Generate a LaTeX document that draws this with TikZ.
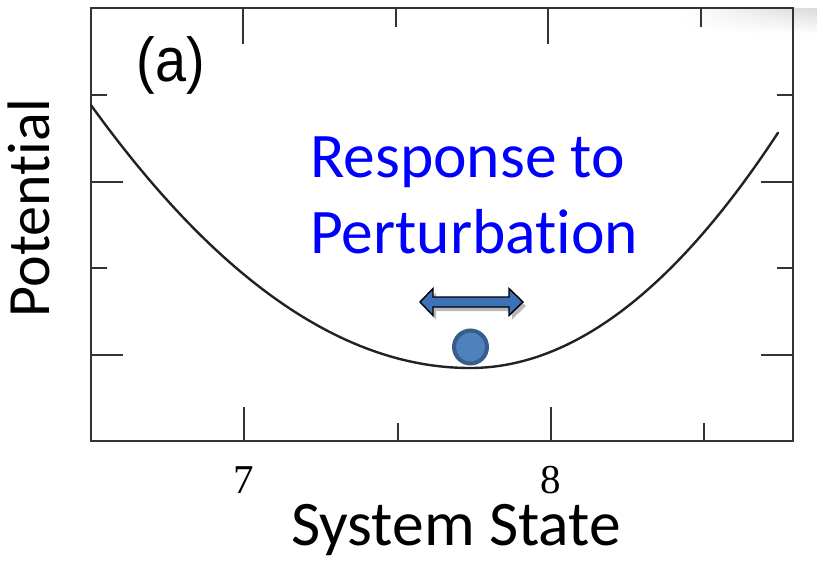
\documentclass[tikz,border=0pt]{standalone}
\usepackage{fontspec}
\setmainfont[RawFeature={-liga;-clig;-dlig;-calt}]{Carlito}
\newfontfamily\helv{Liberation Sans}
\newfontfamily\timesf{Liberation Serif}
\usetikzlibrary{fadings}
\definecolor{axisgray}{HTML}{333333}
\definecolor{curvegray}{HTML}{222222}
\definecolor{ballfill}{HTML}{4F81BD}
\definecolor{ballline}{HTML}{385D8A}
\definecolor{arrowfill}{HTML}{3D72B9}
\definecolor{textblue}{HTML}{0000FF}
\tikzset{
  axisline/.style={draw=axisgray, line width=2pt},
  ticklong/.style={draw=axisgray, line width=1.6pt},
  curveline/.style={draw=curvegray, line width=2.4pt},
  ticklabel/.style={inner sep=0pt, anchor=base, text depth=0pt, font=\timesf\fontsize{41}{41}\selectfont},
  biglabel/.style={inner sep=0pt, anchor=base, font=\fontsize{63.5}{63.5}\selectfont},
}
\begin{document}
\begin{tikzpicture}[x=1pt, y=-1pt]
\useasboundingbox (0,0) rectangle (817,563);
% shadow at top right
\shade[top color=gray!30, bottom color=white, path fading=west] (680,8) rectangle (817,34);
% frame
\draw[axisline] (91,8) rectangle (793,441);
% top ticks
\draw[ticklong] (243,8) -- (243,44);
\draw[ticklong] (396,8) -- (396,27);
\draw[ticklong] (548,8) -- (548,44);
\draw[ticklong] (701,8) -- (701,27);
% bottom ticks
\draw[ticklong] (244,441) -- (244,407);
\draw[ticklong] (398,441) -- (398,423);
\draw[ticklong] (551,441) -- (551,407);
\draw[ticklong] (704,441) -- (704,423);
% left ticks
\draw[ticklong] (91,95) -- (107,95);
\draw[ticklong] (91,182) -- (123,182);
\draw[ticklong] (91,268) -- (107,268);
\draw[ticklong] (91,355) -- (123,355);
% right ticks
\draw[ticklong] (793,95) -- (777,95);
\draw[ticklong] (793,182) -- (761,182);
\draw[ticklong] (793,268) -- (777,268);
\draw[ticklong] (793,355) -- (761,355);
% potential curve
\draw[curveline, line cap=round] plot[domain=91:470, samples=80] (\x, {368 - 18.3*((\x-470)/100)^2})
  -- plot[domain=470:778, samples=80] (\x, {368 - 24.8*((\x-470)/100)^2});
% tick labels
\node[ticklabel] (l7) at (244,493) {7};
\node[ticklabel] (l8) at (551,493) {8};
% panel label
\node[inner sep=0pt, font=\helv\fontsize{62}{62}\selectfont, xscale=0.9, transform shape] (pa) at (171,65) {(a)};
% axis labels
\node[inner sep=0pt, anchor=base, rotate=90, font=\fontsize{60}{60}\selectfont] (ylab) at (49,208) {Potent\kern0pt ial};
\node[inner sep=0pt, anchor=base, text height=40pt, font=\fontsize{63.5}{63.5}\selectfont] (xlab) at (456,545) {System State};
% annotation
\node[biglabel, anchor=base west, text=textblue] (resp1) at (310,177) {Response to};
\node[biglabel, anchor=base west, text=textblue] (resp2) at (310,253) {Perturbat\kern0pt ion};
% double arrow shadow
\fill[gray!55] (423,306) -- ++(13,-13.5) -- ++(0,8.5) -- ++(76,0) -- ++(0,-8.5) -- ++(14,13.5) -- ++(-14,13.5) -- ++(0,-8.5) -- ++(-76,0) -- ++(0,8.5) -- cycle;
% double arrow
\filldraw[fill=arrowfill, draw=black, line width=1.4pt, line join=miter] (420,302) -- (433,288.5) -- (433,297) -- (509,297) -- (509,288.5) -- (523,302) -- (509,315.5) -- (509,307) -- (433,307) -- (433,315.5) -- cycle;
% ball
\filldraw[fill=ballfill, draw=ballline, line width=4pt] (470.5,347) circle[radius=16.5];
\end{tikzpicture}
\end{document}
